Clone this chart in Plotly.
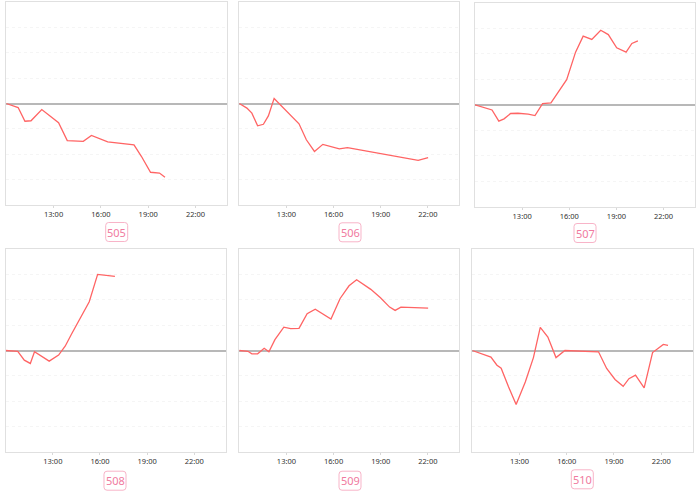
import plotly.graph_objects as go

tick_vals = [13, 16, 19, 22]
tick_text = ["13:00", "16:00", "19:00", "22:00"]

labels = ["505", "506", "507", "508", "509", "510"]

t505 = ["10:00", "10:45", "11:11", "11:34", "12:15", "13:19", "13:52", "14:53", "15:24", "16:26", "18:06", "18:34", "19:09", "19:43", "20:04"]
v505 = [0, -0.16, -0.70, -0.68, -0.24, -0.76, -1.46, -1.49, -1.26, -1.51, -1.63, -2.08, -2.71, -2.74, -2.91]

t506 = ["10:00", "10:29", "10:48", "11:10", "11:32", "11:51", "12:13", "13:48", "14:16", "14:47", "15:19", "16:22", "16:53", "21:23", "22:01"]
v506 = [0, -0.18, -0.38, -0.88, -0.82, -0.49, 0.20, -0.80, -1.43, -1.89, -1.61, -1.79, -1.74, -2.24, -2.13]

t507 = ["10:00", "11:05", "11:31", "11:51", "12:16", "12:44", "13:23", "13:49", "14:18", "14:50", "15:50", "16:24", "16:53", "17:26", "18:00", "18:29", "19:01", "19:37", "19:59", "20:22"]
v507 = [0, -0.20, -0.64, -0.55, -0.34, -0.33, -0.36, -0.42, 0.05, 0.08, 0.99, 2.07, 2.70, 2.57, 2.93, 2.76, 2.24, 2.07, 2.41, 2.51]

t508 = ["10:00", "10:46", "11:11", "11:34", "11:50", "12:46", "13:22", "13:47", "14:12", "14:44", "15:19", "15:51", "16:57"]
v508 = [0, -0.03, -0.38, -0.51, -0.05, -0.42, -0.18, 0.17, 0.66, 1.26, 1.92, 3.0, 2.92]

t509 = ["10:00", "10:33", "10:48", "11:10", "11:35", "11:53", "12:16", "12:50", "13:16", "13:48", "14:19", "14:50", "15:50", "16:25", "16:59", "17:28", "18:22", "18:59", "19:34", "19:55", "20:17", "22:01"]
v509 = [0, -0.03, -0.13, -0.13, 0.09, -0.05, 0.43, 0.92, 0.86, 0.87, 1.45, 1.63, 1.24, 2.05, 2.55, 2.79, 2.41, 2.08, 1.71, 1.58, 1.71, 1.67]

t510 = ["10:00", "10:31", "11:11", "11:34", "11:50", "12:18", "12:47", "13:22", "13:53", "14:19", "14:48", "15:19", "15:53", "18:01", "18:32", "19:04", "19:35", "19:57", "20:22", "20:55", "21:27", "22:08", "22:26"]
v510 = [0, -0.12, -0.26, -0.58, -0.70, -1.43, -2.13, -1.24, -0.28, 0.91, 0.53, -0.28, 0, -0.05, -0.71, -1.14, -1.41, -1.11, -0.97, -1.47, -0.08, 0.24, 0.20]

series = [(t505, v505), (t506, v506), (t507, v507), (t508, v508), (t509, v509), (t510, v510)]


def to_hours(ts):
    return [int(s[:2]) + int(s[3:]) / 60 for s in ts]


W, H = 700, 494
# plot areas in pixels: (left, right, top, bottom)
boxes = [
    (6.3, 227, 2, 205),
    (239.3, 459.3, 2, 205),
    (475, 695, 3, 206.7),
    (5.7, 225.7, 249, 452),
    (239.3, 459.3, 249, 452),
    (472.3, 692.7, 249, 452),
]
label_pos = [(116.7, 232), (350, 232.3), (585, 233), (115, 480.7), (350, 480.7), (582.3, 479.3)]

LINE = "#ff6464"
fig = go.Figure()
for i, ((ts, vs), (l, r, t, b)) in enumerate(zip(series, boxes)):
    n = "" if i == 0 else str(i + 1)
    fig.add_trace(go.Scatter(x=to_hours(ts), y=vs, mode="lines",
                             line=dict(color=LINE, width=1.3),
                             xaxis="x" + n, yaxis="y" + n, showlegend=False,
                             hoverinfo="skip"))
    fig.layout["xaxis" + n] = dict(
        domain=[l / W, r / W], anchor="y" + n, range=[10, 24],
        tickvals=tick_vals, ticktext=tick_text, showgrid=False,
        zeroline=False, showline=True, mirror=True, linecolor="#e0e0e0", linewidth=1,
        ticks="outside", ticklen=2, tickcolor="#d8d8d8",
        tickfont=dict(size=7.5, color="#333333", family="Noto Sans"),
        fixedrange=True)
    fig.layout["yaxis" + n] = dict(
        domain=[1 - b / H, 1 - t / H], anchor="x" + n, range=[-4, 4],
        dtick=1, showticklabels=False, showgrid=True, gridcolor="#f5f5f5",
        griddash="dot", gridwidth=1,
        zeroline=True, zerolinecolor="#b8b8b8", zerolinewidth=1.5,
        showline=True, mirror=True, linecolor="#e0e0e0", linewidth=1,
        fixedrange=True)

# rounded label boxes
bw, bh, rr = 22, 19, 3
for lab, (cx, cy) in zip(labels, label_pos):
    x0, x1 = (cx - bw / 2), (cx + bw / 2)
    y0, y1 = (cy - bh / 2), (cy + bh / 2)

    def P(x, y):
        return f"{x / W:.5f},{1 - y / H:.5f}"
    path = (f"M {P(x0 + rr, y0)} L {P(x1 - rr, y0)} Q {P(x1, y0)} {P(x1, y0 + rr)} "
            f"L {P(x1, y1 - rr)} Q {P(x1, y1)} {P(x1 - rr, y1)} "
            f"L {P(x0 + rr, y1)} Q {P(x0, y1)} {P(x0, y1 - rr)} "
            f"L {P(x0, y0 + rr)} Q {P(x0, y0)} {P(x0 + rr, y0)} Z")
    fig.add_shape(type="path", path=path, xref="paper", yref="paper",
                  line=dict(color="#f8b4c8", width=1), fillcolor="white")
    fig.add_annotation(x=cx / W, y=1 - cy / H, xref="paper", yref="paper",
                       xanchor="center", yanchor="middle",
                       text=lab, showarrow=False,
                       font=dict(size=11, color="#f07aa0", family="Noto Sans"))

fig.update_layout(width=W, height=H, margin=dict(l=0, r=0, t=0, b=0),
                  paper_bgcolor="white", plot_bgcolor="white")
fig.write_html("out.html", config={"displayModeBar": False},
               post_script="document.body.style.margin='0px';")
